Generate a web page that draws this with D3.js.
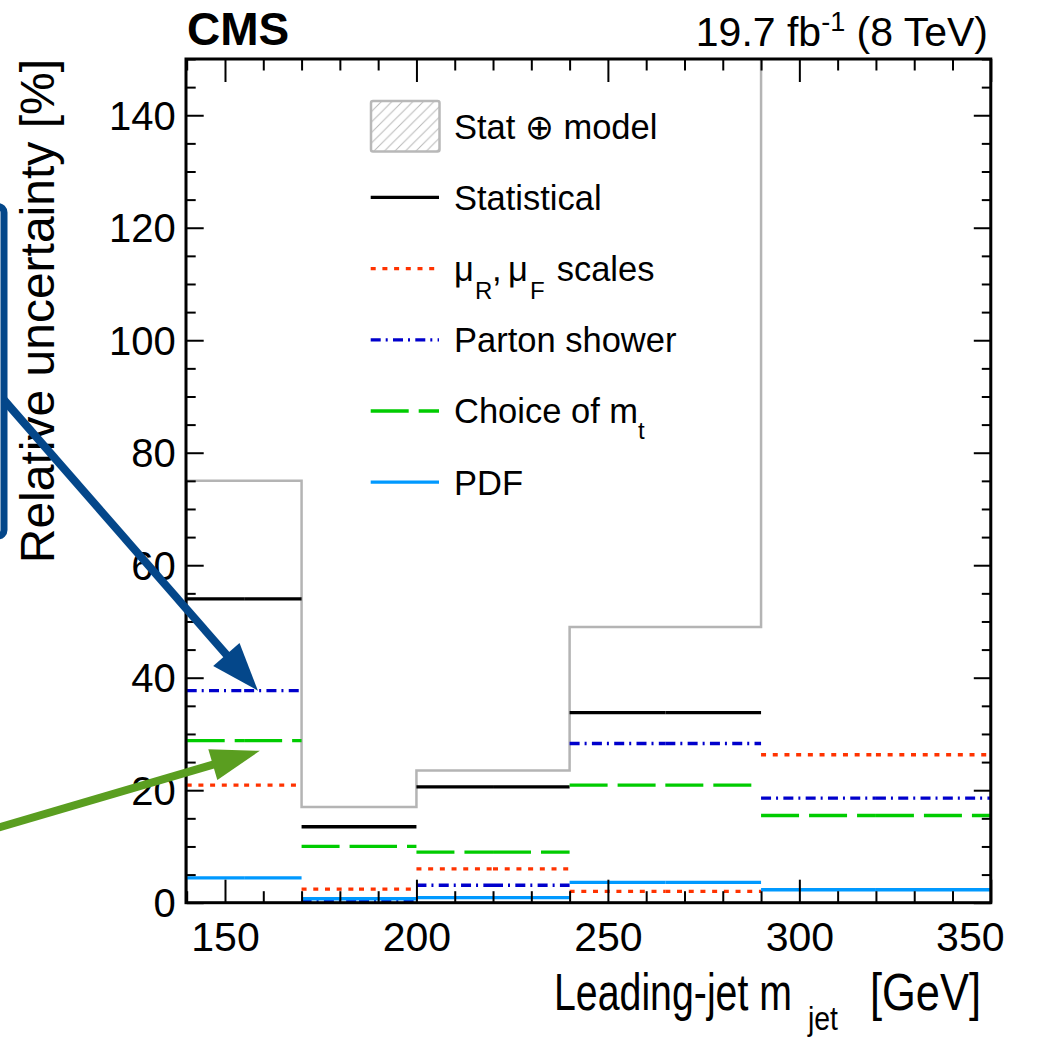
<!DOCTYPE html>
<html><head><meta charset="utf-8">
<script src="https://cdn.jsdelivr.net/npm/d3@7"></script>
<style>
html,body{margin:0;padding:0;background:#fff;}
svg{display:block;}
text{font-family:"Liberation Sans",Arial,Helvetica,"DejaVu Sans",sans-serif;fill:#000;}
</style></head><body>
<svg id="chart" width="1043" height="1037"></svg>
<script>
// Bin edges of the leading-jet mass distribution [GeV]
const binEdges = [140, 170, 200, 240, 290, 350];
// Relative uncertainties per bin [%]
const statModel    = [75.0, 17.0, 23.5, 49.0, 155.0]; // last bin runs above the axis range
const statistical  = [54.0, 13.5, 20.6, 33.8, null];  // last bin above the axis range
const scaleUnc     = [20.9, 2.4, 6.0, 2.0, 26.3];
const partonShower = [37.7, 0.4, 3.1, 28.3, 18.6];
const topMassUnc   = [28.8, 10.0, 9.0, 20.9, 15.5];
const pdfUnc       = [4.4, 0.7, 0.9, 3.6, 2.3];
// Axis ticks
const yMajorTicks = [0, 20, 40, 60, 80, 100, 120, 140];
const xMajorTicks = [150, 200, 250, 300, 350];
const yMinorTicks = d3.range(0, 151, 5).filter(v => v % 20 !== 0);
const xMinorTicks = d3.range(140, 351, 10).filter(v => v % 50 !== 0);

const svg = d3.select("#chart");
const X0 = 186.7, X1 = 990.8, Y0 = 902.7, Y1 = 59;
const x = d3.scaleLinear().domain([140, 350]).range([X0, X1]);
const y = d3.scaleLinear().domain([0, 150]).range([Y0, Y1]);
const line = d3.line().x(d => x(d[0])).y(d => y(d[1]));

// Series styling table
const series = [
  {label: "Statistical",  values: statistical,  color: "#000000", dash: null},
  {label: "scales",       values: scaleUnc,     color: "#ff3300", dash: "5,6.7"},
  {label: "Parton shower",values: partonShower, color: "#0000cc", dash: "10,5,2,5.3"},
  {label: "Choice of mt", values: topMassUnc,   color: "#00cc00", dash: "38,10"},
  {label: "PDF",          values: pdfUnc,       color: "#0099ff", dash: null}
];
const lineW = 3.3;

svg.append("defs").append("clipPath").attr("id", "plotClip")
  .append("rect").attr("x", 186).attr("y", Y1).attr("width", X1 - 186).attr("height", Y0 - Y1);

const defs = svg.select("defs");
const pat = defs.append("pattern").attr("id", "hatch").attr("patternUnits", "userSpaceOnUse")
  .attr("width", 10.5).attr("height", 10.5);
pat.append("path").attr("d", "M0,10.5 L10.5,0 M-2,2 L2,-2 M8.5,12.5 L12.5,8.5")
  .attr("stroke", "#b8b8b8").attr("stroke-width", 1);

const plot = svg.append("g").attr("clip-path", "url(#plotClip)");

// Stat (+) model envelope, drawn as a histogram outline
const envPts = [[binEdges[0], 0]];
statModel.forEach((v, i) => { envPts.push([binEdges[i], v], [binEdges[i + 1], v]); });
envPts.push([binEdges[binEdges.length - 1], 0]);
plot.append("path").attr("d", line(envPts)).attr("fill", "none")
  .attr("stroke", "#b4b4b4").attr("stroke-width", 2.5);

// Individual sources: each bin drawn as two half-width segments
series.forEach(s => {
  s.values.forEach((v, i) => {
    if (v == null) return;
    const lo = binEdges[i], hi = binEdges[i + 1], mid = (lo + hi) / 2;
    [[lo, mid], [mid, hi]].forEach(([a, b]) => {
      plot.append("path").attr("d", line([[a, v], [b, v]]))
        .attr("fill", "none").attr("stroke", s.color).attr("stroke-width", lineW)
        .attr("stroke-dasharray", s.dash);
    });
  });
});

// Axes with inward ticks on all four sides
function cleanAxis(g) {
  g.select(".domain").remove();
  g.selectAll(".tick line").attr("stroke", "#000").attr("stroke-width", 2);
}
const axes = svg.append("g");
axes.append("g").attr("transform", `translate(${X0},0)`)
  .call(d3.axisLeft(y).tickValues(yMajorTicks).tickSize(-17).tickPadding(11).tickFormat(d3.format("d")))
  .call(cleanAxis)
  .call(g => g.selectAll("text").attr("font-size", 40).attr("dy", "0.35em")
    .style("font-family", '"Liberation Sans",Arial,sans-serif'));
axes.append("g").attr("transform", `translate(${X0},0)`)
  .call(d3.axisLeft(y).tickValues(yMinorTicks).tickSize(-9).tickFormat(""))
  .call(cleanAxis);
axes.append("g").attr("transform", `translate(${X1},0)`)
  .call(d3.axisRight(y).tickValues(yMajorTicks).tickSize(-17).tickFormat(""))
  .call(cleanAxis);
axes.append("g").attr("transform", `translate(${X1},0)`)
  .call(d3.axisRight(y).tickValues(yMinorTicks).tickSize(-9).tickFormat(""))
  .call(cleanAxis);
axes.append("g").attr("transform", `translate(0,${Y0})`)
  .call(d3.axisBottom(x).tickValues(xMajorTicks).tickSize(-23).tickFormat(d3.format("d")))
  .call(cleanAxis)
  .call(g => g.selectAll("text").attr("font-size", 41).attr("dy", null).attr("y", 48)
    .style("font-family", '"Liberation Sans",Arial,sans-serif')
    .each(function(d) {
      const w = this.getComputedTextLength();
      const over = x(d) + w / 2 - 1004;
      if (over > 0) d3.select(this).attr("x", -over);
    }));
axes.append("g").attr("transform", `translate(0,${Y0})`)
  .call(d3.axisBottom(x).tickValues(xMinorTicks).tickSize(-11.5).tickFormat(""))
  .call(cleanAxis);
axes.append("g").attr("transform", `translate(0,${Y1})`)
  .call(d3.axisTop(x).tickValues(xMajorTicks).tickSize(-23).tickFormat(""))
  .call(cleanAxis);
axes.append("g").attr("transform", `translate(0,${Y1})`)
  .call(d3.axisTop(x).tickValues(xMinorTicks).tickSize(-11.5).tickFormat(""))
  .call(cleanAxis);

// Frame
svg.append("rect").attr("x", 186).attr("y", Y1).attr("width", X1 - 186).attr("height", Y0 - Y1)
  .attr("fill", "none").attr("stroke", "#000").attr("stroke-width", 3);

// Header texts
svg.append("text").attr("x", 187).attr("y", 45).attr("font-size", 46).attr("font-weight", "bold").text("CMS");
const lumi = svg.append("text").attr("x", 988).attr("y", 46).attr("font-size", 41).attr("text-anchor", "end");
lumi.append("tspan").text("19.7 fb");
lumi.append("tspan").attr("font-size", 27).attr("dy", -15).text("-1");
lumi.append("tspan").attr("dy", 15).text(" (8 TeV)");

// Axis titles
svg.append("text").attr("transform", "rotate(-90)").attr("x", -59).attr("y", 54)
  .attr("text-anchor", "end").attr("font-size", 48).text("Relative uncertainty [%]");
svg.append("text").attr("x", 554).attr("y", 1010).attr("font-size", 52)
  .attr("textLength", 238).attr("lengthAdjust", "spacingAndGlyphs").text("Leading-jet m");
svg.append("text").attr("x", 808).attr("y", 1030).attr("font-size", 34)
  .attr("textLength", 30).attr("lengthAdjust", "spacingAndGlyphs").text("jet");
svg.append("text").attr("x", 870).attr("y", 1010).attr("font-size", 52)
  .attr("textLength", 111).attr("lengthAdjust", "spacingAndGlyphs").text("[GeV]");

// Legend
const leg = svg.append("g");
const legY0 = 126.2, legStep = 71.2, legX0 = 370.7, legX1 = 439, legTX = 454, fs = 34.5;
leg.append("rect").attr("x", 371).attr("y", 101).attr("width", 68.5).attr("height", 50.5).attr("rx", 2)
  .attr("fill", "url(#hatch)").attr("stroke", "#b8b8b8").attr("stroke-width", 2.5);
leg.append("text").attr("x", legTX).attr("y", legY0 + 12.4).attr("font-size", fs).text("Stat \u2295 model");
series.forEach((s, i) => {
  const cy = legY0 + legStep * (i + 1);
  leg.append("line").attr("x1", legX0).attr("x2", legX1).attr("y1", cy).attr("y2", cy)
    .attr("stroke", s.color).attr("stroke-width", lineW).attr("stroke-dasharray", s.dash);
});
const ty = i => legY0 + legStep * i + 12.4;
leg.append("text").attr("x", legTX).attr("y", ty(1)).attr("font-size", fs).text("Statistical");
const sc = leg.append("text").attr("y", ty(2)).attr("font-size", fs);
sc.append("tspan").attr("x", 454).text("\u03bc");
sc.append("tspan").attr("x", 475).attr("dy", 18).attr("font-size", 24).text("R");
sc.append("tspan").attr("x", 492).attr("dy", -18).text(",");
sc.append("tspan").attr("x", 508).text("\u03bc");
sc.append("tspan").attr("x", 530).attr("dy", 18).attr("font-size", 24).text("F");
sc.append("tspan").attr("x", 556.7).attr("dy", -18).text("scales");
leg.append("text").attr("x", legTX).attr("y", ty(3)).attr("font-size", fs).text("Parton shower");
const mt = leg.append("text").attr("x", legTX).attr("y", ty(4)).attr("font-size", fs);
mt.append("tspan").text("Choice of m");
mt.append("tspan").attr("dy", 16).attr("font-size", 24).text("t");
leg.append("text").attr("x", legTX).attr("y", ty(5)).attr("font-size", fs).text("PDF");

// Callouts: highlighted axis title and two arrows
const calloutBlue = "#04478a", calloutGreen = "#5a9e20";
svg.append("rect").attr("x", -200).attr("y", 206.5).attr("width", 204).attr("height", 329.5).attr("rx", 6)
  .attr("fill", "none").attr("stroke", calloutBlue).attr("stroke-width", 7);

function drawArrow(tail, tip, headLen, headW, color, lw) {
  const dx = tip[0] - tail[0], dy = tip[1] - tail[1], L = Math.hypot(dx, dy);
  const ux = dx / L, uy = dy / L;
  const bx = tip[0] - ux * headLen, by = tip[1] - uy * headLen;
  svg.append("line").attr("x1", tail[0]).attr("y1", tail[1]).attr("x2", bx + ux * 2).attr("y2", by + uy * 2)
    .attr("stroke", color).attr("stroke-width", lw);
  const px = -uy * headW / 2, py = ux * headW / 2;
  svg.append("path").attr("d", `M${tip[0]},${tip[1]}L${bx + px},${by + py}L${bx - px},${by - py}Z`)
    .attr("fill", color);
}
drawArrow([4, 400], [x(158.6), y(37.7)], 48, 35, calloutBlue, 8);
drawArrow([-30, 836], [x(159.1), y(27.0)], 49, 32, calloutGreen, 8);
</script>
</body></html>
